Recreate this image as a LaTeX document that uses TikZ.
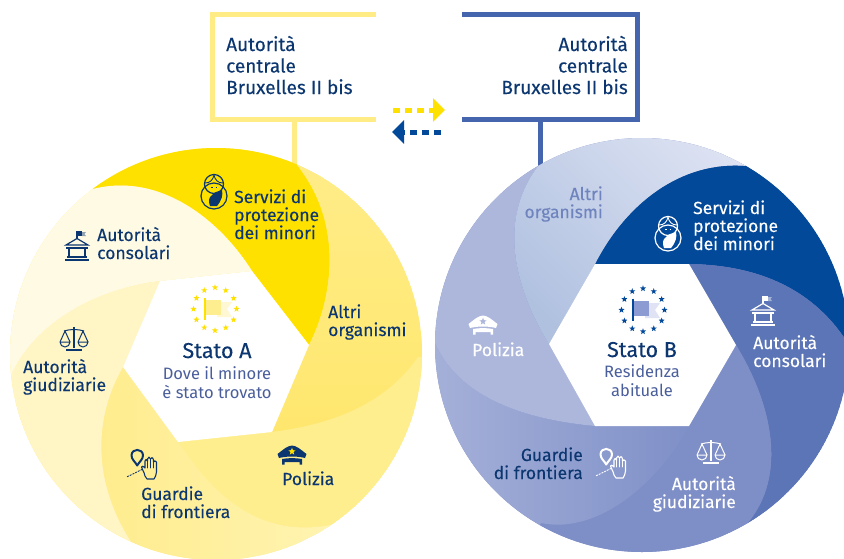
\documentclass[tikz,border=0pt]{standalone}
\usepackage{fontspec}
\setmainfont{Fira Sans}
\newfontfamily\medf[FakeBold=0.25]{Fira Sans}
\usetikzlibrary{arrows.meta}
\definecolor{navy}{HTML}{0B3670}
\definecolor{subnavy}{HTML}{4A5E9C}
\definecolor{ybox}{HTML}{FFEC85}
\definecolor{bbox}{HTML}{4565AE}
\definecolor{ystrong}{HTML}{FFE100}
\definecolor{bstrong}{HTML}{03499A}
\definecolor{altriblue}{HTML}{6F84BE}
\definecolor{yaltriA}{HTML}{FFEE90}
\definecolor{yaltriB}{HTML}{FFE76E}
\definecolor{yaltriC}{HTML}{FFEC85}
\definecolor{ypol}{HTML}{FFEE8E}
\definecolor{yguaA}{HTML}{FFEC8C}
\definecolor{yguaB}{HTML}{FFF6BC}
\definecolor{ygiu}{HTML}{FFF5C5}
\definecolor{ycon}{HTML}{FFFAE3}
\definecolor{ytail}{HTML}{FFF8D2}
\definecolor{bgiu}{HTML}{7E8EC6}
\definecolor{bcon}{HTML}{5C75B6}
\definecolor{bguaA}{HTML}{B4BDDF}
\definecolor{bguaB}{HTML}{7F90C8}
\definecolor{bpol}{HTML}{ADB7DC}
\definecolor{baltA}{HTML}{B0C1E0}
\definecolor{baltB}{HTML}{E6E9F6}
\definecolor{bflag}{HTML}{8C9BD2}
\definecolor{btail}{HTML}{DFE3F3}
\tikzset{
  lbl/.style={inner sep=0pt,align=left,font=\medf\fontsize{17.5}{18}\selectfont,text=navy},
  lblr/.style={inner sep=0pt,align=right,font=\medf\fontsize{17.5}{18}\selectfont,text=navy},
  boxl/.style={inner sep=0pt,font=\medf\fontsize{19}{21.5}\selectfont,text=navy},
  titl/.style={inner sep=0pt,align=center,font=\medf\fontsize{21.5}{24}\selectfont,text=navy},
  subl/.style={inner sep=0pt,align=center,font=\fontsize{16.5}{19}\selectfont,text=subnavy},
  frame/.style={line width=5pt,line cap=butt,line join=miter},
}
% star at (x,y), radius r
\newcommand{\mystar}[4]{\fill[#4,shift={({#1},{#2})}] (-90:#3) -- (-54:#3*0.42) -- (-18:#3) -- (18:#3*0.42) -- (54:#3) -- (90:#3*0.42) -- (126:#3) -- (162:#3*0.42) -- (198:#3) -- (234:#3*0.42) -- cycle;}
% flag emblem: x,y,star,mainflag,tail,pole
\newcommand{\emblem}[6]{\begin{scope}[shift={(#1,#2)}]
  \foreach \a in {0,30,...,330} {\mystar{21.5*cos(\a)}{21.5*sin(\a)}{3.2}{#3}}
  \fill[#5] (2,-7) -- (17,-7) -- (12,0) -- (17,8) -- (2,8) -- cycle;
  \fill[#4] (-9.5,-9) rectangle (6,6);
  \draw[#6,line width=1.5pt] (-10,-11.5) -- (-10,10.5);
\end{scope}}
\newcommand{\court}[3]{\begin{scope}[shift={(#1,#2)},#3,line width=1.2pt]
  \draw (0,-15) -- (0,-7);
  \fill (0,-15) rectangle (5,-10);
  \fill[opacity=.45] (5,-14) -- (9,-14) -- (7.5,-12) -- (9,-10) -- (5,-10) -- cycle;
  \draw (-11,-1) -- (0,-7.5) -- (11,-1) -- cycle;
  \draw (-11,2) -- (11,2);
  \draw[line width=1.6pt] (-8,2) -- (-8,11) (8,2) -- (8,11);
  \draw (-10,11) -- (10,11);
  \draw[line width=1.6pt] (-12,14) -- (12,14);
\end{scope}}
\newcommand{\scales}[3]{\begin{scope}[shift={(#1,#2)},#3,line width=1pt]
  \draw[line width=1.6pt] (0,-12) -- (0,9);
  \draw (-10,-8) .. controls (-4,-10) and (4,-10) .. (10,-8);
  \draw (-14,3) -- (-9,-8) -- (-4,3) (14,3) -- (9,-8) -- (4,3);
  \draw (-14,3) -- (-4,3) arc (0:180:5);
  \draw (4,3) -- (14,3) arc (0:180:5);
  \draw[line width=1.8pt] (-8,11) -- (8,11);
\end{scope}}
\newcommand{\mycap}[4]{\begin{scope}[shift={(#1,#2)}]
  \fill[#3] (-14.5,-1) .. controls (-8,-6) and (-5,-9) .. (0,-9.5) .. controls (5,-9) and (8,-6) .. (14.5,-1) -- (13,3) .. controls (5,1) and (-5,1) .. (-13,3) -- cycle;
  \fill[#3] (-10,4) .. controls (-4,2.8) and (4,2.8) .. (10,4) -- (10,9.5) -- (7.5,9.5) -- (7.5,7) -- (-7.5,7) -- (-7.5,9.5) -- (-10,9.5) -- cycle;
  \mystar{0}{-3.5}{3.8}{#4}
\end{scope}}
\newcommand{\pinhand}[3]{\begin{scope}[shift={(#1,#2)},#3,line width=1.1pt,line join=round,line cap=round]
  \draw[line width=2pt] (-4.8,1.5) .. controls (-6.5,-2) and (-10.5,-4.5) .. (-10.5,-8.5) .. controls (-10.5,-16) and (1,-16) .. (1,-8.5) .. controls (1,-4.5) and (-3,-2) .. (-4.8,1.5) -- cycle;
  \draw[dash pattern=on 1.5pt off 1.5pt,line width=.9pt] (-14.7,12.7) -- (1,5);
  \draw (3,12) .. controls (2,7) and (0,6) .. (-0.5,3) .. controls (0,1.5) and (1.5,2) .. (3,4) -- (3,-3) .. controls (3,-5) and (5,-5) .. (5.5,-3) -- (5.5,-5) .. controls (6,-7.5) and (8,-7.5) .. (8.5,-5) .. controls (9,-7) and (11,-7) .. (11.5,-4) -- (11.5,-2) .. controls (12,-3.5) and (14,-3.5) .. (14.5,-2) -- (14.5,8) .. controls (14.5,11) and (13,13) .. (12,15) -- (5,15) -- cycle;
  \draw[line width=.8pt] (5.5,-3) -- (5.5,4) (8.5,-5) -- (8.5,4) (11.5,-2) -- (11.5,4);
\end{scope}}
\newcommand{\childicon}[3]{\begin{scope}[shift={(#1,#2)},#3,line width=1.2pt]
  \draw (0,-6) circle (9.5);
  \draw (0,6) circle (13);
  \fill[#3] (-4,16) .. controls (-6,11) and (-5,7) .. (-2,5) .. controls (0,2) and (4,1.5) .. (8,0) .. controls (9,5) and (8,10) .. (3,16) -- cycle;
  \draw[line width=.9pt] (-9,-7) .. controls (-4,-7) and (-1,-10) .. (0,-15) .. controls (1,-10) and (4,-7) .. (9,-7);
  \draw[line width=.9pt] (-3,-3) -- (-1.5,-3) (1.5,-3) -- (3,-3);
\end{scope}}
\begin{document}
\begin{tikzpicture}[x=1pt,y=-1pt]
\useasboundingbox (0,0) rectangle (844,558);
% frames
\coordinate (yt) at (376,14.5); \coordinate (ytl) at (212.5,14.5); \coordinate (ybl) at (212.5,119.5); \coordinate (yb) at (376,119.5);
\coordinate (ys) at (294.5,119.5); \coordinate (yc) at (294.5,170);
\draw[frame,ybox] (yt) -- (ytl) -- (ybl) -- (yb);
\draw[frame,ybox] (ys) -- (yc);
\coordinate (bt) at (462,14.5); \coordinate (btr) at (637.5,14.5); \coordinate (bbr) at (637.5,119.5); \coordinate (bb) at (462,119.5);
\coordinate (bs) at (540,119.5); \coordinate (bc) at (540,170);
\draw[frame,bbox] (bt) -- (btr) -- (bbr) -- (bb);
\draw[frame,bbox] (bs) -- (bc);
% arrows
\coordinate (a1) at (393,110); \coordinate (a2) at (445,110);
\coordinate (b1) at (441,132); \coordinate (b2) at (392,132);
\draw[ystrong,line width=5pt,dash pattern=on 7pt off 5pt,-{Triangle[length=12pt,width=23pt]}] (a1) -- (a2);
\draw[bstrong,line width=5pt,dash pattern=on 7pt off 5pt,-{Triangle[length=12pt,width=23pt]}] (b1) -- (b2);
\node[boxl,align=left,anchor=base west] (boxA) at (226,94) {Autorità\\centrale\\Bruxelles II bis};
\node[boxl,align=right,anchor=base east] (boxB) at (628,94) {Autorità\\centrale\\Bruxelles II bis};
% left disc
\begin{scope}
\clip (216,354) circle (206);
\fill[ybox] (216,354) circle (206);
\coordinate (H1) at (252,271); \coordinate (H2) at (309,345); \coordinate (H3) at (272,432);
\coordinate (H4) at (178,442); \coordinate (H5) at (123,367); \coordinate (H6) at (160,281);
\fill[ystrong] (H1) -- (H2) .. controls (332,300) and (345,225) .. (297,165) -- (338,70) -- (31,106) -- (93,189) .. controls (160,172) and (220,220) .. (H1) -- cycle;
\shade[top color=yaltriA,bottom color=yaltriB,shading angle=0] (H2) -- (H3) .. controls (330,425) and (385,405) .. (418,357) -- (519,358) -- (338,70) -- (297,165) .. controls (345,225) and (332,300) .. (H2) -- cycle;
\fill[ypol] (H3) -- (H4) .. controls (205,480) and (250,545) .. (340,523) -- (402,608) -- (519,358) -- (418,357) .. controls (385,405) and (330,425) .. (H3) -- cycle;
\shade[left color=yguaA,right color=yguaB] (H4) -- (H5) .. controls (95,415) and (90,480) .. (133,545) -- (92,640) -- (402,608) -- (340,523) .. controls (250,545) and (205,480) .. (H4) -- cycle;
\fill[ygiu] (H5) -- (H6) .. controls (100,288) and (35,320) .. (10,377) -- (-93,388) -- (92,640) -- (133,545) .. controls (90,480) and (95,415) .. (H5) -- cycle;
\fill[ycon] (H6) -- (H1) .. controls (220,220) and (160,172) .. (93,189) -- (31,106) -- (-93,388) -- (10,377) .. controls (35,320) and (100,288) .. (H6) -- cycle;
\fill[white] (H1) -- (H2) -- (H3) -- (H4) -- (H5) -- (H6) -- cycle;
\end{scope}
% right disc
\begin{scope}
\clip (642,345) circle (207);
\fill[bgiu] (642,345) circle (207);
\coordinate (R1) at (595,264); \coordinate (R2) at (689,264); \coordinate (R3) at (736,345);
\coordinate (R4) at (689,426); \coordinate (R5) at (595,426); \coordinate (R6) at (549,344);
\fill[bstrong] (R1) -- (R2) .. controls (760,265) and (815,290) .. (849,345) -- (952,345) -- (800,76) -- (747,166) .. controls (680,160) and (625,205) .. (R1) -- cycle;
\fill[bcon] (R2) -- (R3) .. controls (770,400) and (790,475) .. (746,525) -- (798,615) -- (952,345) -- (849,345) .. controls (815,290) and (760,265) .. (R2) -- cycle;
\fill[bgiu] (R3) -- (R4) .. controls (660,480) and (600,535) .. (541,523) -- (490,612) -- (798,615) -- (746,525) .. controls (790,475) and (770,400) .. (R3) -- cycle;
\shade[left color=bguaA,right color=bguaB] (R4) -- (R5) .. controls (530,420) and (460,400) .. (435,343) -- (331,342) -- (490,612) -- (541,523) .. controls (600,535) and (660,480) .. (R4) -- cycle;
\fill[bpol] (R5) -- (R6) .. controls (510,280) and (500,215) .. (539,165) -- (487,75) -- (331,342) -- (435,343) .. controls (460,400) and (530,420) .. (R5) -- cycle;
\shade[bottom color=baltA,top color=baltB,shading angle=-45] (R6) -- (R1) .. controls (625,205) and (680,160) .. (747,166) -- (800,76) -- (487,75) -- (539,165) .. controls (500,215) and (510,280) .. (R6) -- cycle;
\fill[white] (R1) -- (R2) -- (R3) -- (R4) -- (R5) -- (R6) -- cycle;
\end{scope}
% centres
\emblem{215}{309}{ystrong}{yaltriA}{ytail}{ystrong}
\emblem{643}{310}{bstrong}{bflag}{btail}{bstrong}
\node[titl,anchor=base] (stA) at (217,358) {Stato A};
\node[subl,anchor=base] (subA) at (217,398) {Dove il minore\\è stato trovato};
\node[titl,anchor=base] (stB) at (642,357) {Stato B};
\node[subl,anchor=base] (subB) at (642,396) {Residenza\\abituale};
% left labels
\node[lbl,anchor=base west] (l1) at (234,239) {Servizi di\\protezione\\dei minori};
\node[lbl,anchor=base west] (l2) at (97,259) {Autorità\\consolari};
\node[lbl,anchor=base west] (l3) at (328,336) {Altri\\organismi};
\node[lbl,anchor=base west] (l4) at (23,391) {Autorità\\giudiziarie};
\node[lbl,anchor=base west] (l5) at (141,518) {Guardie\\di frontiera};
\node[lbl,anchor=base west] (l6) at (282,485) {Polizia};
% right labels
\node[lblr,anchor=base east,text=altriblue] (r1) at (603,218) {Altri\\organismi};
\node[lbl,anchor=base west,text=white] (r2) at (693,250) {Servizi di\\protezione\\dei minori};
\node[lbl,anchor=base west,text=white] (r3) at (753,367) {Autorità\\consolari};
\node[lbl,anchor=base west,text=white] (r4) at (472,356) {Polizia};
\node[lblr,anchor=base east] (r5) at (583,479) {Guardie\\di frontiera};
\node[lblr,anchor=base east,text=white] (r6) at (736,508) {Autorità\\giudiziarie};
% icons
\childicon{214}{190}{navy}
\childicon{668}{232}{white}
\court{77}{246}{navy}
\court{763}{311}{white}
\scales{74}{339}{navy}
\scales{711}{452}{white}
\mycap{292}{455}{navy}{ystrong}
\mycap{483}{325}{white}{bpol}
\pinhand{142}{464}{navy}
\pinhand{611}{463}{white}
\end{tikzpicture}
\end{document}
